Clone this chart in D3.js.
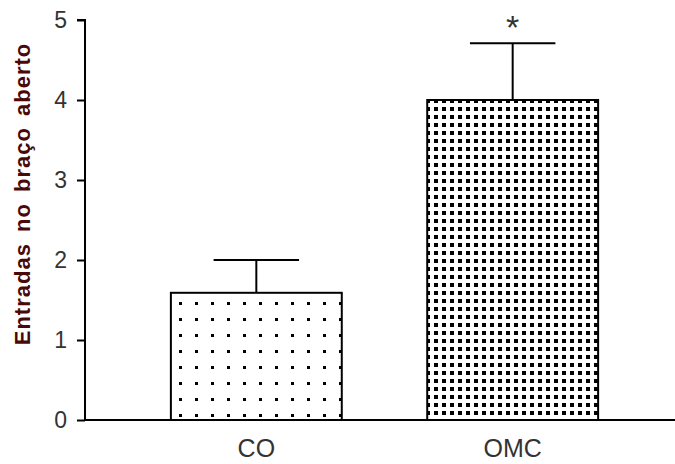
<!DOCTYPE html>
<html>
<head>
<meta charset="utf-8">
<script src="https://cdn.jsdelivr.net/npm/d3@7"></script>
<style>
  body { margin: 0; background: #fff; }
  svg { display: block; }
</style>
</head>
<body>
<svg id="chart" width="675" height="464"></svg>
<script>
// data
const groups = ["CO", "OMC"];
const means = [1.59, 4.0];
const errors = [0.41, 0.71];
const marks = ["", "*"];
const yTicks = [0, 1, 2, 3, 4, 5];
const patterns = ["dotsSparse", "dotsDense"];

let width = 675;
let height = 464;
const font = "Liberation Sans, Arial, sans-serif";

const svg = d3.select("#chart");

const y = d3.scaleLinear()
    .domain([0, 5])
    .range([420, 20]);

const x = d3.scaleBand()
    .domain(groups)
    .range([85, 684])
    .paddingInner(1 / 3)
    .paddingOuter(0.335);

const defs = svg.append("defs");

// sparse dots for CO
let p1 = defs.append("pattern")
    .attr("id", "dotsSparse")
    .attr("patternUnits", "userSpaceOnUse")
    .attr("x", Math.round(x("CO")) + 8).attr("y", Math.round(y(means[0])) + 9)
    .attr("width", 16).attr("height", 16);
p1.append("rect").attr("width", 16).attr("height", 16).attr("fill", "#fff");
p1.append("rect").attr("width", 3).attr("height", 3).attr("fill", "#000");

// dense dots for OMC
let p2 = defs.append("pattern")
    .attr("id", "dotsDense")
    .attr("patternUnits", "userSpaceOnUse")
    .attr("x", Math.round(x("OMC")) + 7).attr("y", Math.round(y(means[1])) + 7)
    .attr("width", 8).attr("height", 8);
p2.append("rect").attr("width", 8).attr("height", 8).attr("fill", "#fff");
p2.append("rect").attr("width", 4).attr("height", 4).attr("fill", "#000");

// bars
svg.append("g")
    .selectAll("rect")
    .data(groups)
    .join("rect")
    .attr("x", d => x(d))
    .attr("y", (d, i) => y(means[i]))
    .attr("width", x.bandwidth())
    .attr("height", (d, i) => y(0) - y(means[i]))
    .attr("fill", (d, i) => `url(#${patterns[i]})`)
    .attr("stroke", "#000")
    .attr("stroke-width", 2);

// error bars (upper only)
const capHalf = x.bandwidth() / 4;
const err = svg.append("g")
    .attr("stroke", "#000")
    .attr("stroke-width", 2);
err.selectAll("line.stem")
    .data(groups)
    .join("line")
    .attr("class", "stem")
    .attr("x1", d => x(d) + x.bandwidth() / 2)
    .attr("x2", d => x(d) + x.bandwidth() / 2)
    .attr("y1", (d, i) => y(means[i]))
    .attr("y2", (d, i) => y(means[i] + errors[i]));
err.selectAll("line.cap")
    .data(groups)
    .join("line")
    .attr("class", "cap")
    .attr("x1", d => x(d) + x.bandwidth() / 2 - capHalf)
    .attr("x2", d => x(d) + x.bandwidth() / 2 + capHalf)
    .attr("y1", (d, i) => y(means[i] + errors[i]))
    .attr("y2", (d, i) => y(means[i] + errors[i]));

// significance mark
svg.append("g")
    .selectAll("text")
    .data(groups)
    .join("text")
    .attr("x", d => x(d) + x.bandwidth() / 2)
    .attr("y", (d, i) => y(means[i] + errors[i]) - 4)
    .attr("text-anchor", "middle")
    .attr("font-family", font)
    .attr("font-size", 34)
    .attr("fill", "#333")
    .text((d, i) => marks[i]);

// y axis
const yAxis = svg.append("g")
    .attr("transform", "translate(85,0)")
    .call(d3.axisLeft(y).tickValues(yTicks).tickSize(8).tickPadding(10).tickFormat(d3.format("d")));
yAxis.selectAll("path, line").attr("stroke", "#000").attr("stroke-width", 2);
yAxis.select(".domain").attr("d", `M-8,${y(5)}H0V${y(0)}`);
yAxis.selectAll("text")
    .attr("font-family", font)
    .attr("font-size", 23)
    .attr("fill", "#333");

// x axis
const xAxis = svg.append("g")
    .attr("transform", `translate(0,${y(0)})`)
    .call(d3.axisBottom(x).tickSize(0).tickPadding(19));
xAxis.select(".domain").attr("d", `M85,0H${width}`).attr("stroke", "#000").attr("stroke-width", 2);
xAxis.selectAll("text")
    .attr("font-family", font)
    .attr("font-size", 25)
    .attr("fill", "#333");

// y axis title
svg.append("text")
    .attr("transform", `translate(30,194) rotate(-90)`)
    .attr("text-anchor", "middle")
    .attr("font-family", font)
    .attr("font-weight", "bold")
    .attr("font-size", 22)
    .attr("letter-spacing", 1)
    .attr("word-spacing", 4)
    .attr("fill", "#4a0808")
    .text("Entradas no braço aberto");
</script>
</body>
</html>
